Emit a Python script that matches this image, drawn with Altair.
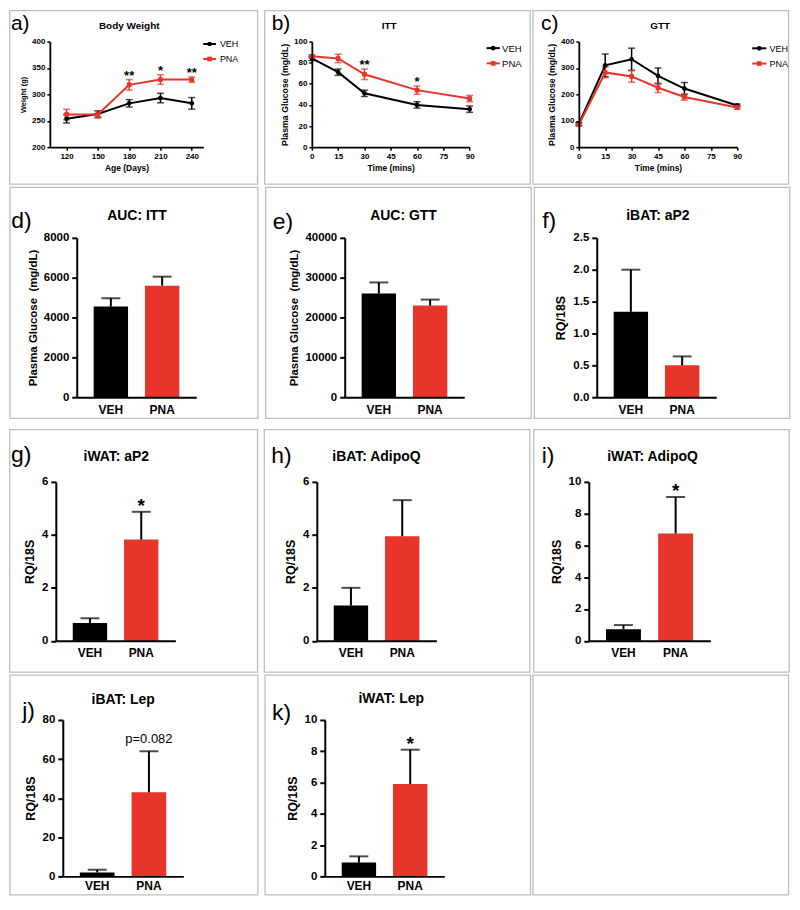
import altair as alt
import pandas as pd

FONT = "Liberation Sans"
RED = "#E8352B"
BLACK = "#000000"
FRAME = "#BDBDBD"

groups = ["VEH", "PNA"]
marker_shapes = ["circle", "square"]
series_colors = [BLACK, RED]

# ---- a) Body Weight ----
bw_age = [120, 150, 180, 210, 240]
bw_veh = [254, 263, 283, 293, 283]
bw_veh_err = [8, 6, 7, 9, 11]
bw_pna = [262, 262, 318, 328, 328]
bw_pna_err = [10, 7, 10, 9, 5]
bw_sig = ["", "", "**", "*", "**"]
bw_xticks = [120, 150, 180, 210, 240]
bw_yticks = [200, 250, 300, 350, 400]

# ---- b) ITT ----
itt_time = [0, 15, 30, 60, 90]
itt_veh = [84, 71, 51, 40, 36]
itt_veh_err = [2, 3, 3, 3, 3]
itt_pna = [86, 84, 69, 54, 46]
itt_pna_err = [1.5, 4, 5, 4, 3]
itt_sig = ["", "", "**", "*", ""]
itt_xticks = [0, 15, 30, 45, 60, 75, 90]
itt_yticks = [0, 20, 40, 60, 80, 100]

# ---- c) GTT ----
gtt_time = [0, 15, 30, 45, 60, 90]
gtt_veh = [88, 310, 333, 270, 222, 158]
gtt_veh_err = [5, 43, 42, 30, 23, 5]
gtt_pna = [85, 283, 268, 225, 190, 150]
gtt_pna_err = [5, 20, 22, 18, 12, 6]
gtt_sig = ["", "", "", "", "", ""]
gtt_xticks = [0, 15, 30, 45, 60, 75, 90]
gtt_yticks = [0, 100, 200, 300, 400]

# ---- bar panels (VEH, PNA) ----
auc_itt = [4550, 5600]
auc_itt_err = [420, 450]
auc_itt_note = ["", ""]
auc_gtt = [26000, 23000]
auc_gtt_err = [2800, 1500]
auc_gtt_note = ["", ""]
ibat_ap2 = [1.34, 0.50]
ibat_ap2_err = [0.66, 0.14]
ibat_ap2_note = ["", ""]
iwat_ap2 = [0.67, 3.82]
iwat_ap2_err = [0.18, 1.05]
iwat_ap2_note = ["", "*"]
ibat_adipoq = [1.33, 3.95]
ibat_adipoq_err = [0.67, 1.36]
ibat_adipoq_note = ["", ""]
iwat_adipoq = [0.72, 6.75]
iwat_adipoq_err = [0.27, 2.30]
iwat_adipoq_note = ["", "*"]
ibat_lep = [2.0, 43.0]
ibat_lep_err = [1.4, 21.0]
ibat_lep_note = ["", "p=0.082"]
iwat_lep = [0.88, 5.9]
iwat_lep_err = [0.40, 2.2]
iwat_lep_note = ["", "*"]

# ---- page grid (page pixel coordinates) ----
COLS = [(9, 262), (262, 533), (533, 792)]
ROWS = [(8, 185), (185, 423), (423, 673), (673, 896)]
BORDER_X = [(9.7, 258.5), (265, 531.5), (534, 790.5)]
BORDER_Y = [(9, 183), (186, 418), (428, 671.5), (674, 894.5)]

ONE = pd.DataFrame({"k": [0]})
cscale = alt.Scale(domain=groups, range=series_colors)


def frame_layers(L):
    px, py = L["px"], L["py"]
    x0, x1 = COLS[L["col"]]
    y0, y1 = ROWS[L["row"]]
    bx0, bx1 = BORDER_X[L["col"]]
    by0, by1 = BORDER_Y[L["row"]]
    bg = alt.Chart(ONE).mark_rect(fill="white", fillOpacity=0, strokeWidth=0).encode(
        x=alt.value(x0 - px), x2=alt.value(x1 - px),
        y=alt.value(y0 - py), y2=alt.value(y1 - py))
    bd = alt.Chart(ONE).mark_rect(fill="white", fillOpacity=0, stroke=FRAME, strokeWidth=1.3).encode(
        x=alt.value(bx0 - px), x2=alt.value(bx1 - px),
        y=alt.value(by0 - py), y2=alt.value(by1 - py))
    return [bg, bd]


def text_layer(s, x, y, size, weight, align, L, color=BLACK):
    return alt.Chart(ONE).mark_text(
        text=s, font=FONT, fontSize=size, fontWeight=weight, align=align,
        baseline="alphabetic", color=color).encode(
        x=alt.value(x - L["px"]), y=alt.value(y - L["py"]))


def heading_layers(L):
    return [text_layer(L["title"], L["tx"], L["ty"], L["tsize"], "bold", "center", L),
            text_layer(L["tag"], L["gx"], L["gy"], L["gsize"], "normal", "left", L)]


def legend_layers(L):
    x0, x1, tx, bases, size = L["legend"]
    px, py = L["px"], L["py"]
    out = []
    for name, colr, shp, b in zip(groups, series_colors, marker_shapes, bases):
        ly = b - size * 0.36
        out.append(alt.Chart(ONE).mark_rule(color=colr, strokeWidth=2).encode(
            x=alt.value(x0 - px), x2=alt.value(x1 - px), y=alt.value(ly - py)))
        out.append(alt.Chart(ONE).mark_point(filled=True, shape=shp, size=22, color=colr, opacity=1).encode(
            x=alt.value((x0 + x1) / 2 - px), y=alt.value(ly - py)))
        out.append(text_layer(name, tx, b, size, "normal", "left", L))
    return out


def line_panel(xv, veh, veh_err, pna, pna_err, sig, xdomain, xticks, ydomain, yticks,
               xtitle, ytitle, ytitle_size, L):
    rows = []
    for g, ys, es in (("VEH", veh, veh_err), ("PNA", pna, pna_err)):
        for x, y, e in zip(xv, ys, es):
            rows.append({"series": g, "x": x, "y": y, "lo": y - e, "hi": y + e})
    df = pd.DataFrame(rows)
    sdf = pd.DataFrame({"x": xv, "hi": [p + e for p, e in zip(pna, pna_err)], "t": sig})
    sdf = sdf[sdf["t"] != ""]

    xs = alt.Scale(domain=xdomain, nice=False, zero=False)
    ys = alt.Scale(domain=ydomain, nice=False, zero=False)
    xax = alt.Axis(values=xticks, title=xtitle, format="d", labelFontSize=8, titleFontSize=8.5,
                   tickSize=3, tickWidth=1.5, domainWidth=1.8, labelPadding=2, titlePadding=3,
                   labelFlush=False, labelOverlap=False, zindex=1)
    yax = alt.Axis(values=yticks, title=ytitle, format="d", labelFontSize=8, titleFontSize=ytitle_size,
                   tickSize=3, tickWidth=1.5, domainWidth=1.8, labelPadding=2, titlePadding=4,
                   labelOverlap=False, minExtent=10, zindex=1)

    def X(f):
        return alt.X(f + ":Q", scale=xs, axis=xax)

    def Y(f):
        return alt.Y(f + ":Q", scale=ys, axis=yax)

    col = alt.Color("series:N", scale=cscale, legend=None)
    base = alt.Chart(df)
    err = base.mark_rule(strokeWidth=1.5).encode(x=X("x"), y=Y("lo"), y2=alt.Y2("hi:Q"), color=col)
    cap_lo = base.mark_tick(orient="horizontal", size=7, thickness=1.5).encode(x=X("x"), y=Y("lo"), color=col)
    cap_hi = base.mark_tick(orient="horizontal", size=7, thickness=1.5).encode(x=X("x"), y=Y("hi"), color=col)
    line = base.mark_line(strokeWidth=2).encode(x=X("x"), y=Y("y"), color=col, detail="series:N")
    pts = base.mark_point(filled=True, size=22, opacity=1).encode(
        x=X("x"), y=Y("y"), color=col,
        shape=alt.Shape("series:N", scale=alt.Scale(domain=groups, range=marker_shapes), legend=None))
    layers = frame_layers(L) + [err, cap_lo, cap_hi, line, pts]
    if len(sdf):
        stars = alt.Chart(sdf).mark_text(font=FONT, fontSize=13, fontWeight="bold",
                                         baseline="alphabetic", dy=0, color=BLACK).encode(
            x=X("x"), y=Y("hi"), text="t:N")
        layers.append(stars)
    layers += legend_layers(L) + heading_layers(L)
    return alt.layer(*layers).properties(width=L["w"], height=L["h"])


def bar_panel(vals, errs, notes, ydomain, yticks, yfmt, ytitle, ytitle_size, L,
              note_size=19, note_weight="bold", note_dy=0, xlab_pad=7):
    df = pd.DataFrame({"group": groups, "value": vals, "err": errs, "note": notes})
    df["hi"] = df["value"] + df["err"]
    xs = alt.Scale(domain=groups, paddingInner=0.33, paddingOuter=0.33)
    ys = alt.Scale(domain=ydomain, nice=False, zero=True)
    xax = alt.Axis(title=None, labelAngle=0, ticks=False, tickSize=0, labelPadding=xlab_pad,
                   labelFontSize=12, domainWidth=2, zindex=1)
    yax = alt.Axis(values=yticks, title=ytitle, format=yfmt, labelFontSize=11.5,
                   titleFontSize=ytitle_size, tickSize=5, tickWidth=2, domainWidth=2,
                   labelPadding=3, titlePadding=5, labelOverlap=False, minExtent=10, zindex=1)
    X = alt.X("group:N", scale=xs, axis=xax, sort=groups)

    def Y(f):
        return alt.Y(f + ":Q", scale=ys, axis=yax)

    col = alt.Color("group:N", scale=cscale, legend=None)
    base = alt.Chart(df)
    bars = base.mark_bar(opacity=1).encode(x=X, y=Y("value"), color=col)
    err = base.mark_rule(strokeWidth=2, color=BLACK).encode(x=X, y=Y("value"), y2=alt.Y2("hi:Q"))
    cap = base.mark_tick(orient="horizontal", size=19, thickness=2, color=BLACK).encode(x=X, y=Y("hi"))
    note = base.transform_filter(alt.datum.note != "").mark_text(
        font=FONT, fontSize=note_size, fontWeight=note_weight, baseline="alphabetic",
        dy=note_dy, color=BLACK).encode(x=X, y=Y("hi"), text="note:N")
    layers = frame_layers(L) + [bars, err, cap, note] + heading_layers(L)
    return alt.layer(*layers).properties(width=L["w"], height=L["h"])


def anchor():
    # 1px-wide first cell so that every row starts at the same left edge
    return alt.Chart(ONE).mark_rect(fillOpacity=0, strokeWidth=0).encode(
        x=alt.value(0), x2=alt.value(1), y=alt.value(0), y2=alt.value(1)
    ).properties(width=1, height=1)


PG = "Plasma Glucose\u00a0 (mg/dL)"

A = dict(col=0, row=0, px=50, py=40, w=154, h=106, title="Body Weight", tx=129.7, ty=27, tsize=10,
         tag="a)", gx=11, gy=28.6, gsize=21, legend=(204, 216.7, 220.7, [45.7, 60.7], 9))
B = dict(col=1, row=0, px=312.3, py=40, w=158.4, h=106, title="ITT", tx=390, ty=27, tsize=10,
         tag="b)", gx=272, gy=28, gsize=21, legend=(487.7, 501, 503.3, [50, 65.3], 9.5))
C = dict(col=2, row=0, px=580, py=40, w=159, h=106, title="GTT", tx=661.7, ty=27, tsize=10,
         tag="c)", gx=542, gy=28, gsize=21, legend=(754, 768.3, 771.5, [50, 65.3], 9))
D = dict(col=0, row=1, px=76.7, py=236.7, w=120, h=160, title="AUC: ITT", tx=137.2, ty=219.3, tsize=14,
         tag="d)", gx=11, gy=227, gsize=23)
E = dict(col=1, row=1, px=344.3, py=236.7, w=120, h=160, title="AUC: GTT", tx=403.3, ty=219.3, tsize=14,
         tag="e)", gx=272, gy=228, gsize=23)
F = dict(col=2, row=1, px=596.7, py=236.7, w=120, h=160, title="iBAT: aP2", tx=658, ty=218.5, tsize=14,
         tag="f)", gx=542, gy=227, gsize=23)
G = dict(col=0, row=2, px=56, py=480.5, w=120, h=159.5, title="iWAT: aP2", tx=116.7, ty=459.5, tsize=14,
         tag="g)", gx=11, gy=461, gsize=23)
H = dict(col=1, row=2, px=317.7, py=480.5, w=120, h=159.5, title="iBAT: AdipoQ", tx=377.5, ty=459.5, tsize=14,
         tag="h)", gx=272, gy=462, gsize=23)
I = dict(col=2, row=2, px=589.3, py=480.5, w=122, h=159.5, title="iWAT: AdipoQ", tx=653.3, ty=459.5, tsize=14,
         tag="i)", gx=542, gy=462, gsize=23)
J = dict(col=0, row=3, px=62.7, py=719, w=121, h=157, title="iBAT: Lep", tx=123.3, ty=702.5, tsize=14,
         tag="j)", gx=22, gy=717, gsize=23)
K = dict(col=1, row=3, px=325, py=719, w=120, h=157, title="iWAT: Lep", tx=391.7, ty=702, tsize=14,
         tag="k)", gx=272, gy=719, gsize=23)
Z = dict(col=2, row=3, px=560, py=719, w=10, h=10)

pa = line_panel(bw_age, bw_veh, bw_veh_err, bw_pna, bw_pna_err, bw_sig, [104, 251], bw_xticks,
                [200, 400], bw_yticks, "Age (Days)", "Weight (g)", 7.5, A)
pb = line_panel(itt_time, itt_veh, itt_veh_err, itt_pna, itt_pna_err, itt_sig, [0, 90], itt_xticks,
                [0, 100], itt_yticks, "Time (mins)", "Plasma Glucose (mg/dL)", 8.8, B)
pc = line_panel(gtt_time, gtt_veh, gtt_veh_err, gtt_pna, gtt_pna_err, gtt_sig, [0, 90], gtt_xticks,
                [0, 400], gtt_yticks, "Time (mins)", "Plasma Glucose (mg/dL)", 8.8, C)

pd_ = bar_panel(auc_itt, auc_itt_err, auc_itt_note, [0, 8000], [0, 2000, 4000, 6000, 8000], "d", PG, 11.5, D)
pe = bar_panel(auc_gtt, auc_gtt_err, auc_gtt_note, [0, 40000], [0, 10000, 20000, 30000, 40000], "d", PG, 11.5, E)
pf = bar_panel(ibat_ap2, ibat_ap2_err, ibat_ap2_note, [0, 2.5], [0, 0.5, 1.0, 1.5, 2.0, 2.5], ".1f", "RQ/18S", 12.5, F)
pg = bar_panel(iwat_ap2, iwat_ap2_err, iwat_ap2_note, [0, 6], [0, 2, 4, 6], "d", "RQ/18S", 12.5, G)
ph = bar_panel(ibat_adipoq, ibat_adipoq_err, ibat_adipoq_note, [0, 6], [0, 2, 4, 6], "d", "RQ/18S", 12.5, H)
pi = bar_panel(iwat_adipoq, iwat_adipoq_err, iwat_adipoq_note, [0, 10], [0, 2, 4, 6, 8, 10], "d", "RQ/18S", 12.5, I)
pj = bar_panel(ibat_lep, ibat_lep_err, ibat_lep_note, [0, 80], [0, 20, 40, 60, 80], "d", "RQ/18S", 12.5, J,
               note_size=13, note_weight="normal", note_dy=-8, xlab_pad=4.5)
pk = bar_panel(iwat_lep, iwat_lep_err, iwat_lep_note, [0, 10], [0, 2, 4, 6, 8, 10], "d", "RQ/18S", 12.5, K,
               xlab_pad=4.5)
pz = alt.layer(*frame_layers(Z)).properties(width=Z["w"], height=Z["h"])

chart = alt.vconcat(
    alt.hconcat(anchor(), pa, pb, pc, spacing=0),
    alt.hconcat(anchor(), pd_, pe, pf, spacing=0),
    alt.hconcat(anchor(), pg, ph, pi, spacing=0),
    alt.hconcat(anchor(), pj, pk, pz, spacing=0),
    spacing=0,
).properties(padding=0).configure_view(stroke=None).configure_axis(
    labelFont=FONT, titleFont=FONT, labelColor=BLACK, titleColor=BLACK,
    domainColor=BLACK, tickColor=BLACK, grid=False,
    labelFontWeight="bold", titleFontWeight="bold",
).configure_text(font=FONT)

chart.save("out.html", embed_options={"renderer": "svg", "actions": False})
